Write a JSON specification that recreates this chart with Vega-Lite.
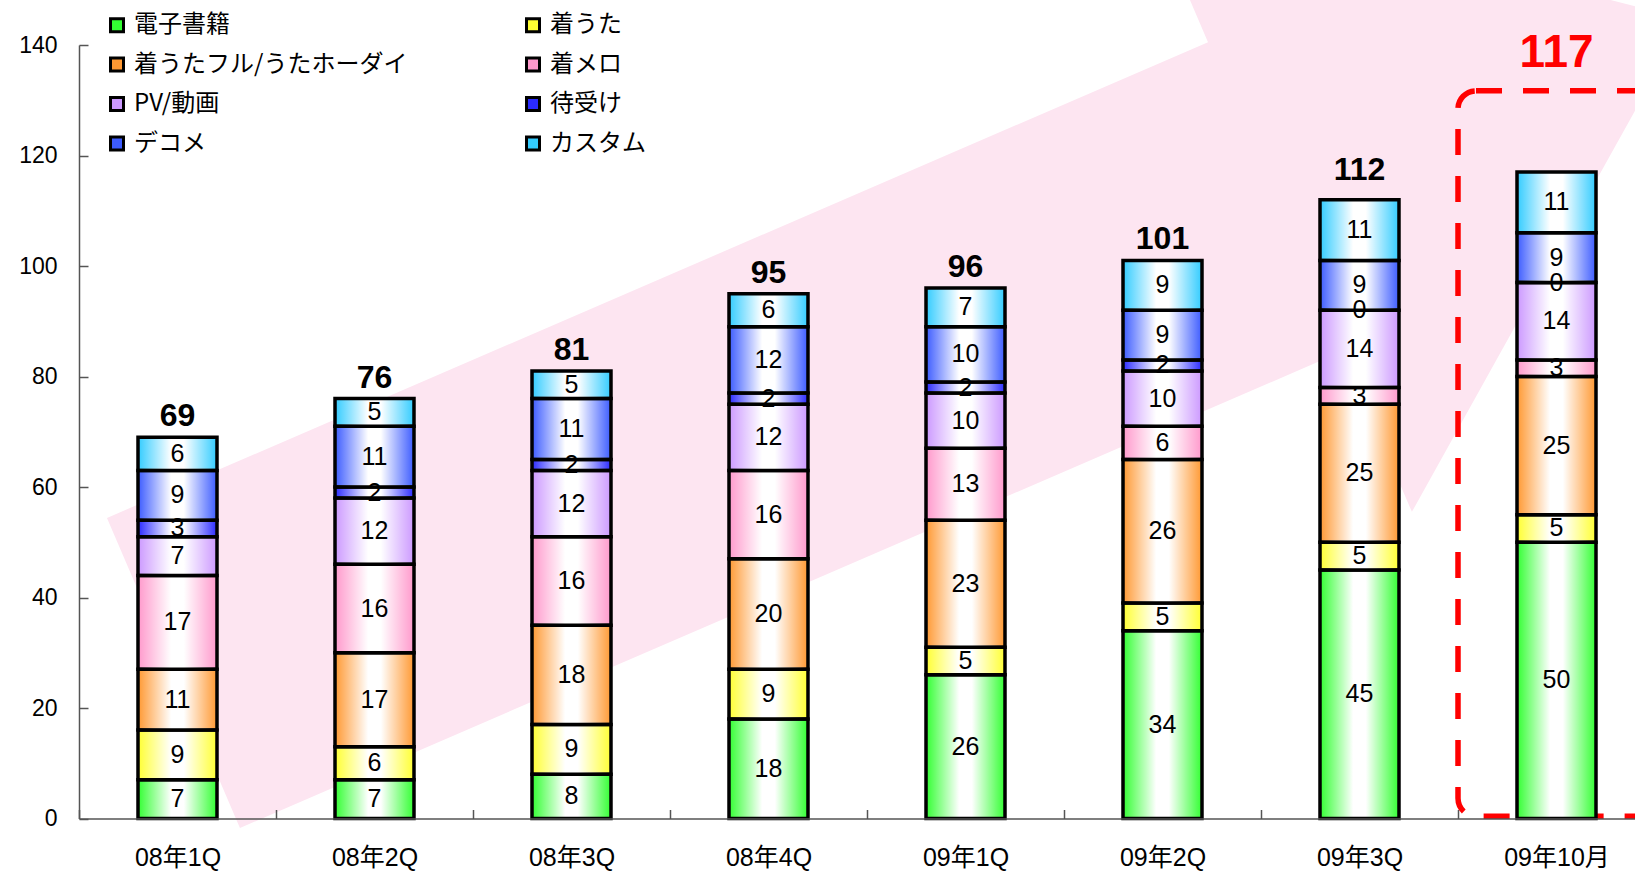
{
  "$schema": "https://vega.github.io/schema/vega-lite/v6.json",
  "width": 1576,
  "height": 773.5,
  "autosize": {"type": "none"},
  "padding": {"left": 79, "top": 45, "right": 0, "bottom": 53},
  "background": "white",
  "config": {
    "view": {"stroke": null},
    "font": "Liberation Sans",
    "axis": {"grid": false, "domainColor": "#555555", "tickColor": "#555555", "domainWidth": 1.5, "tickWidth": 1.5, "labelColor": "black", "tickSize": -9}
  },
  "resolve": {"scale": {"x": "independent"}, "axis": {"x": "independent", "y": "independent"}},
  "layer": [
    {
      "data": {"values": [
        {"i": 1, "ax": 0.142, "ay": 54.4},
        {"i": 2, "ax": 5.731, "ay": 140.5},
        {"i": 3, "ax": 5.381, "ay": 169.7},
        {"i": 4, "ax": 8.157, "ay": 144.7},
        {"i": 5, "ax": 6.766, "ay": 55.5},
        {"i": 6, "ax": 6.416, "ay": 84.6},
        {"i": 7, "ax": 0.817, "ay": -1.72}
      ]},
      "mark": {"type": "line", "interpolate": "linear-closed", "fill": "#fde5f1", "stroke": null, "strokeWidth": 0, "clip": false},
      "encoding": {
        "x": {"field": "ax", "type": "quantitative", "scale": {"domain": [0, 8], "nice": false, "zero": false}, "axis": null},
        "y": {"field": "ay", "type": "quantitative", "scale": {"domain": [0, 140], "nice": false}, "axis": null},
        "order": {"field": "i"}
      }
    },
    {
      "data": {"values": [
        {"c": "08年1Q", "s": "電子書籍", "o": 1, "v": 7},
        {"c": "08年1Q", "s": "着うた", "o": 2, "v": 9},
        {"c": "08年1Q", "s": "着うたフル/うたホーダイ", "o": 3, "v": 11},
        {"c": "08年1Q", "s": "着メロ", "o": 4, "v": 17},
        {"c": "08年1Q", "s": "PV/動画", "o": 5, "v": 7},
        {"c": "08年1Q", "s": "待受け", "o": 6, "v": 3},
        {"c": "08年1Q", "s": "デコメ", "o": 7, "v": 9},
        {"c": "08年1Q", "s": "カスタム", "o": 8, "v": 6},
        {"c": "08年2Q", "s": "電子書籍", "o": 1, "v": 7},
        {"c": "08年2Q", "s": "着うた", "o": 2, "v": 6},
        {"c": "08年2Q", "s": "着うたフル/うたホーダイ", "o": 3, "v": 17},
        {"c": "08年2Q", "s": "着メロ", "o": 4, "v": 16},
        {"c": "08年2Q", "s": "PV/動画", "o": 5, "v": 12},
        {"c": "08年2Q", "s": "待受け", "o": 6, "v": 2},
        {"c": "08年2Q", "s": "デコメ", "o": 7, "v": 11},
        {"c": "08年2Q", "s": "カスタム", "o": 8, "v": 5},
        {"c": "08年3Q", "s": "電子書籍", "o": 1, "v": 8},
        {"c": "08年3Q", "s": "着うた", "o": 2, "v": 9},
        {"c": "08年3Q", "s": "着うたフル/うたホーダイ", "o": 3, "v": 18},
        {"c": "08年3Q", "s": "着メロ", "o": 4, "v": 16},
        {"c": "08年3Q", "s": "PV/動画", "o": 5, "v": 12},
        {"c": "08年3Q", "s": "待受け", "o": 6, "v": 2},
        {"c": "08年3Q", "s": "デコメ", "o": 7, "v": 11},
        {"c": "08年3Q", "s": "カスタム", "o": 8, "v": 5},
        {"c": "08年4Q", "s": "電子書籍", "o": 1, "v": 18},
        {"c": "08年4Q", "s": "着うた", "o": 2, "v": 9},
        {"c": "08年4Q", "s": "着うたフル/うたホーダイ", "o": 3, "v": 20},
        {"c": "08年4Q", "s": "着メロ", "o": 4, "v": 16},
        {"c": "08年4Q", "s": "PV/動画", "o": 5, "v": 12},
        {"c": "08年4Q", "s": "待受け", "o": 6, "v": 2},
        {"c": "08年4Q", "s": "デコメ", "o": 7, "v": 12},
        {"c": "08年4Q", "s": "カスタム", "o": 8, "v": 6},
        {"c": "09年1Q", "s": "電子書籍", "o": 1, "v": 26},
        {"c": "09年1Q", "s": "着うた", "o": 2, "v": 5},
        {"c": "09年1Q", "s": "着うたフル/うたホーダイ", "o": 3, "v": 23},
        {"c": "09年1Q", "s": "着メロ", "o": 4, "v": 13},
        {"c": "09年1Q", "s": "PV/動画", "o": 5, "v": 10},
        {"c": "09年1Q", "s": "待受け", "o": 6, "v": 2},
        {"c": "09年1Q", "s": "デコメ", "o": 7, "v": 10},
        {"c": "09年1Q", "s": "カスタム", "o": 8, "v": 7},
        {"c": "09年2Q", "s": "電子書籍", "o": 1, "v": 34},
        {"c": "09年2Q", "s": "着うた", "o": 2, "v": 5},
        {"c": "09年2Q", "s": "着うたフル/うたホーダイ", "o": 3, "v": 26},
        {"c": "09年2Q", "s": "着メロ", "o": 4, "v": 6},
        {"c": "09年2Q", "s": "PV/動画", "o": 5, "v": 10},
        {"c": "09年2Q", "s": "待受け", "o": 6, "v": 2},
        {"c": "09年2Q", "s": "デコメ", "o": 7, "v": 9},
        {"c": "09年2Q", "s": "カスタム", "o": 8, "v": 9},
        {"c": "09年3Q", "s": "電子書籍", "o": 1, "v": 45},
        {"c": "09年3Q", "s": "着うた", "o": 2, "v": 5},
        {"c": "09年3Q", "s": "着うたフル/うたホーダイ", "o": 3, "v": 25},
        {"c": "09年3Q", "s": "着メロ", "o": 4, "v": 3},
        {"c": "09年3Q", "s": "PV/動画", "o": 5, "v": 14},
        {"c": "09年3Q", "s": "待受け", "o": 6, "v": 0},
        {"c": "09年3Q", "s": "デコメ", "o": 7, "v": 9},
        {"c": "09年3Q", "s": "カスタム", "o": 8, "v": 11},
        {"c": "09年10月", "s": "電子書籍", "o": 1, "v": 50},
        {"c": "09年10月", "s": "着うた", "o": 2, "v": 5},
        {"c": "09年10月", "s": "着うたフル/うたホーダイ", "o": 3, "v": 25},
        {"c": "09年10月", "s": "着メロ", "o": 4, "v": 3},
        {"c": "09年10月", "s": "PV/動画", "o": 5, "v": 14},
        {"c": "09年10月", "s": "待受け", "o": 6, "v": 0},
        {"c": "09年10月", "s": "デコメ", "o": 7, "v": 9},
        {"c": "09年10月", "s": "カスタム", "o": 8, "v": 11}
      ]},
      "transform": [
        {"stack": "v", "groupby": ["c"], "sort": [{"field": "o", "order": "ascending"}], "as": ["y0", "y1"]}
      ],
      "encoding": {
        "x": {
          "field": "c", "type": "nominal", "title": null,
          "scale": {"type": "band", "paddingInner": 0, "paddingOuter": 0,
            "domain": ["08年1Q", "08年2Q", "08年3Q", "08年4Q", "09年1Q", "09年2Q", "09年3Q", "09年10月"]},
          "axis": {"labelAngle": 0, "labelFontSize": 25, "labelFont": "Liberation Sans, Noto Sans CJK JP", "labelPadding": 36, "tickBand": "extent", "zindex": 1}
        }
      },
      "layer": [
        {
          "transform": [{"filter": "datum.s === 'カスタム' && datum.c === '09年10月'"}],
          "mark": {"type": "rect", "fill": null, "stroke": "#ff0000", "strokeWidth": 5.5, "strokeDash": [26, 21], "cornerRadius": 18},
          "encoding": {
            "y": {"datum": 0.4, "type": "quantitative", "title": null},
            "y2": {"datum": 131.7}
          }
        },
        {
          "mark": {"type": "bar", "width": {"band": 0.401}, "strokeWidth": 0},
          "encoding": {
            "y": {"field": "y0", "type": "quantitative", "title": null,
              "scale": {"domain": [0, 140], "nice": false},
              "axis": {"values": [0, 20, 40, 60, 80, 100, 120, 140], "labelFontSize": 23, "labelPadding": 31, "labelFont": "Liberation Sans"}},
            "y2": {"field": "y1"},
            "color": {
              "field": "s", "type": "nominal",
              "scale": {
                "domain": ["電子書籍", "着うた", "着うたフル/うたホーダイ", "着メロ", "PV/動画", "待受け", "デコメ", "カスタム"],
                "range": ["#33ff33", "#ffff33", "#ff9933", "#ff99cc", "#cc99ff", "#2b2bff", "#3d5cff", "#33ccff"]
              },
              "legend": {
                "title": null, "orient": "none", "legendX": 26, "legendY": -32, "columns": 2, "direction": "horizontal",
                "columnPadding": 112, "rowPadding": 13.5, "symbolType": "square", "symbolSize": 169,
                "symbolStrokeColor": "black", "symbolStrokeWidth": 3, "labelFontSize": 24,
                "labelFont": "Noto Sans CJK JP", "labelOffset": 5, "labelLimit": 500, "labelColor": "black", "padding": 0
              }
            }
          }
        },
        {
          "mark": {"type": "bar", "width": {"band": 0.401}, "stroke": "black", "strokeWidth": 3.5,
            "fill": {"gradient": "linear", "x1": 0, "y1": 0, "x2": 1, "y2": 0, "stops": [
              {"offset": 0, "color": "rgba(255,255,255,0)"},
              {"offset": 0.42, "color": "#ffffff"},
              {"offset": 0.58, "color": "#ffffff"},
              {"offset": 1, "color": "rgba(255,255,255,0)"}
            ]}},
          "encoding": {
            "y": {"field": "y0", "type": "quantitative", "title": null},
            "y2": {"field": "y1"}
          }
        },
        {
          "transform": [
            {"fold": ["y0", "y1"], "as": ["k", "yy"]},
            {"aggregate": [{"op": "mean", "field": "yy", "as": "ym"}, {"op": "max", "field": "v", "as": "vv"}], "groupby": ["c", "s"]}
          ],
          "mark": {"type": "text", "fontSize": 25, "font": "Liberation Sans", "color": "black", "baseline": "middle"},
          "encoding": {
            "y": {"field": "ym", "type": "quantitative", "title": null},
            "text": {"field": "vv", "type": "quantitative"}
          }
        },
        {
          "transform": [{"filter": "datum.s === 'カスタム' && datum.c !== '09年10月' && datum.c !== '09年3Q'"}],
          "mark": {"type": "text", "fontSize": 32, "fontWeight": "bold", "font": "Liberation Sans", "color": "black", "baseline": "alphabetic", "dy": -11},
          "encoding": {
            "y": {"field": "y1", "type": "quantitative", "title": null},
            "text": {"field": "y1", "type": "quantitative"}
          }
        },
        {
          "transform": [{"filter": "datum.s === 'カスタム' && datum.c === '09年3Q'"}],
          "mark": {"type": "text", "fontSize": 32, "fontWeight": "bold", "font": "Liberation Sans", "color": "black", "baseline": "alphabetic", "dy": -20},
          "encoding": {
            "y": {"field": "y1", "type": "quantitative", "title": null},
            "text": {"field": "y1", "type": "quantitative"}
          }
        },
        {
          "transform": [{"filter": "datum.s === 'カスタム' && datum.c === '09年10月'"}],
          "mark": {"type": "text", "fontSize": 46, "fontWeight": "bold", "font": "Liberation Sans", "color": "#ff0000", "baseline": "alphabetic", "dy": -105},
          "encoding": {
            "y": {"field": "y1", "type": "quantitative", "title": null},
            "text": {"field": "y1", "type": "quantitative"}
          }
        }
      ]
    }
  ]
}
